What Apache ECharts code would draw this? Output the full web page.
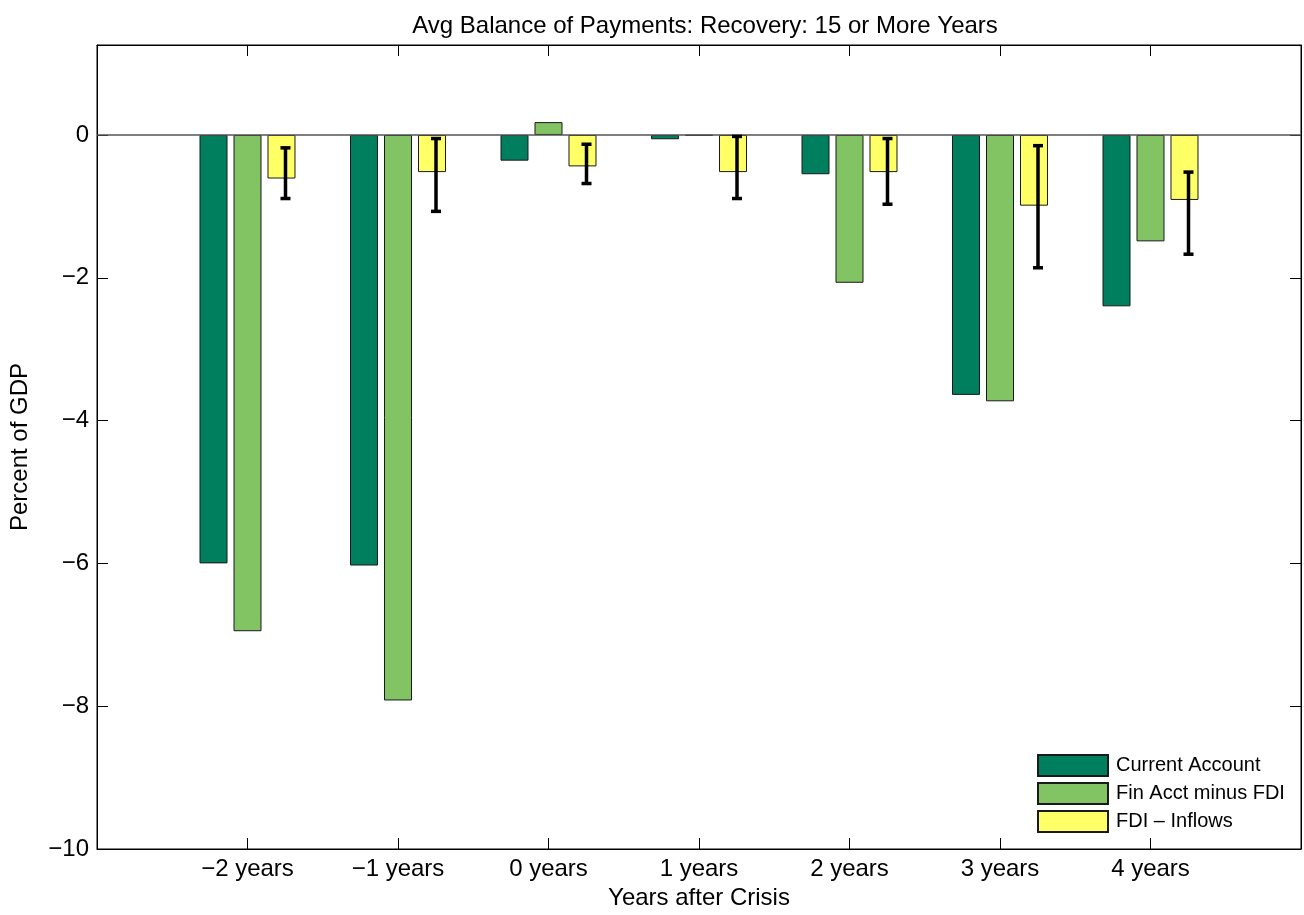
<!DOCTYPE html>
<html>
<head>
<meta charset="utf-8">
<title>Avg Balance of Payments</title>
<script src="https://cdn.jsdelivr.net/npm/echarts@6/dist/echarts.min.js"></script>
<style>
  html, body { margin: 0; padding: 0; background: #fff; }
  #chart { width: 1304px; height: 915px; }
</style>
</head>
<body>
<div id="chart"></div>
<script>
// categories sit at x = 1..7 on a 0..8 axis, like the original figure
const categories = ["\u22122 years", "\u22121 years", "0 years", "1 years", "2 years", "3 years", "4 years"];
const currentAccount = [-6.00, -6.03, -0.36, -0.06, -0.55, -3.64, -2.40];
const finAcctMinusFdi = [-6.95, -7.92, 0.18, -0.01, -2.07, -3.73, -1.49];
const fdiInflows = [-0.61, -0.52, -0.44, -0.52, -0.52, -0.99, -0.91];
const fdiErrLow = [-0.89, -1.07, -0.68, -0.89, -0.97, -1.86, -1.67];
const fdiErrHigh = [-0.18, -0.05, -0.13, -0.02, -0.05, -0.15, -0.52];
const yTicks = [-10, -8, -6, -4, -2, 0];

const font = "Liberation Sans, Arial, Helvetica, sans-serif";
const minus = (v) => (v < 0 ? "\u2212" + Math.abs(v) : String(v));

const chart = echarts.init(document.getElementById("chart"));

const toPoints = (arr) => arr.map((v, i) => [i + 1, v]);

const tick = { inside: true, length: 11, lineStyle: { color: "#000" } };
const line = { show: true, onZero: false, lineStyle: { color: "#000", width: 1 } };

chart.setOption({
  animation: false,
  title: {
    text: "Avg Balance of Payments: Recovery: 15 or More Years",
    left: 700,
    textAlign: "center",
    top: 9,
    textStyle: { fontFamily: font, fontSize: 24, fontWeight: "normal", color: "#000" },
  },
  legend: {
    orient: "vertical",
    left: 1037,
    top: 754,
    padding: 0,
    itemWidth: 70,
    itemHeight: 21,
    itemGap: 5,
    icon: "rect",
    textStyle: { fontFamily: font, fontSize: 20, color: "#000", padding: [0, 0, 0, 3] },
    data: ["Current Account", "Fin Acct minus FDI", "FDI \u2013 Inflows"],
  },
  grid: { left: 97, right: 1, top: 45, bottom: 63, show: true, borderColor: "#000", borderWidth: 1 },
  xAxis: [
    {
      type: "value",
      min: 0,
      max: 8,
      interval: 1,
      name: "Years after Crisis",
      nameLocation: "middle",
      nameGap: 37,
      nameTextStyle: { fontFamily: font, fontSize: 24, color: "#000" },
      axisLine: line,
      axisTick: tick,
      splitLine: { show: false },
      axisLabel: {
        fontFamily: font,
        fontSize: 24,
        color: "#000",
        margin: 8,
        formatter: (v) => categories[v - 1] || "",
      },
    },
    {
      type: "value",
      position: "top",
      min: 0,
      max: 8,
      interval: 1,
      axisLine: line,
      axisTick: tick,
      axisLabel: { show: false },
      splitLine: { show: false },
    },
  ],
  yAxis: [
    {
      type: "value",
      min: -10,
      max: 1.26,
      interval: 2,
      name: "Percent of GDP",
      nameLocation: "middle",
      nameGap: 65,
      nameTextStyle: { fontFamily: font, fontSize: 24, color: "#000" },
      axisLine: line,
      axisTick: tick,
      splitLine: { show: false },
      axisLabel: {
        fontFamily: font,
        fontSize: 24,
        color: "#000",
        margin: 8,
        showMaxLabel: false,
        formatter: (v) => (yTicks.includes(v) ? minus(v) : ""),
      },
    },
    {
      type: "value",
      position: "right",
      min: -10,
      max: 1.26,
      interval: 2,
      axisLine: line,
      axisTick: tick,
      axisLabel: { show: false },
      splitLine: { show: false },
    },
  ],
  series: [
    {
      name: "Current Account",
      type: "bar",
      barWidth: 28,
      barGap: "21.4%",
      itemStyle: { color: "#007F5F", borderColor: "#1a1a1a", borderWidth: 1 },
      data: toPoints(currentAccount),
      markLine: {
        silent: true,
        symbol: "none",
        label: { show: false },
        lineStyle: { color: "#555", width: 1.5, type: "solid" },
        data: [{ yAxis: 0 }],
      },
    },
    {
      name: "Fin Acct minus FDI",
      type: "bar",
      barWidth: 28,
      barGap: "21.4%",
      itemStyle: { color: "#82C364", borderColor: "#1a1a1a", borderWidth: 1 },
      data: toPoints(finAcctMinusFdi),
    },
    {
      name: "FDI \u2013 Inflows",
      type: "bar",
      barWidth: 28,
      barGap: "21.4%",
      itemStyle: { color: "#FFFF66", borderColor: "#1a1a1a", borderWidth: 1 },
      data: toPoints(fdiInflows),
    },
    {
      // error bars on the FDI bars
      type: "custom",
      silent: true,
      z: 5,
      data: fdiErrLow.map((lo, i) => [i + 1, lo, fdiErrHigh[i]]),
      renderItem: (params, api) => {
        const x = api.coord([api.value(0), 0])[0] + 38;
        const yLo = api.coord([api.value(0), api.value(1)])[1];
        const yHi = api.coord([api.value(0), api.value(2)])[1];
        const cap = 5;
        const style = { stroke: "#000", lineWidth: 3.5 };
        return {
          type: "group",
          children: [
            { type: "line", shape: { x1: x, y1: yHi, x2: x, y2: yLo }, style },
            { type: "line", shape: { x1: x - cap, y1: yHi, x2: x + cap, y2: yHi }, style },
            { type: "line", shape: { x1: x - cap, y1: yLo, x2: x + cap, y2: yLo }, style },
          ],
        };
      },
    },
  ],
});
</script>
</body>
</html>
